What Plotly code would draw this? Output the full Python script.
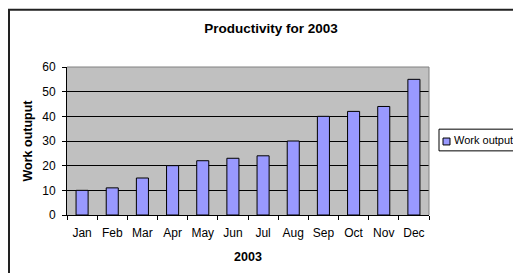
import plotly.graph_objects as go

months = ["Jan", "Feb", "Mar", "Apr", "May", "Jun", "Jul", "Aug", "Sep", "Oct", "Nov", "Dec"]
work_output = [10, 11, 15, 20, 22, 23, 24, 30, 40, 42, 44, 55]
y_ticks = [0, 10, 20, 30, 40, 50, 60]
series_name = "Work output"

# figure is drawn with an 8px page margin, so it is sized to fill the rest of the window
W, H = 513, 265
L, T = 59, 59
pw, ph = 362, 150
R, B = W - L - pw, H - T - ph

def px(x):
    return (x - L) / pw

def py(y):
    return (T + ph - y) / ph

FONT = "Liberation Sans, Arial, sans-serif"
BAR_COLOR = "#9999FF"

fig = go.Figure()
fig.add_trace(go.Bar(
    x=months, y=work_output, name=series_name, showlegend=False,
    marker=dict(color=BAR_COLOR, line=dict(color="black", width=1)),
))

fig.update_layout(
    width=W, height=H,
    margin=dict(l=L, r=R, t=T, b=B),
    paper_bgcolor="white",
    plot_bgcolor="#C0C0C0",
    bargap=0.6,
    font=dict(family=FONT, size=12, color="black"),
    title=dict(text="<b>Productivity for 2003</b>", x=263 / W, xanchor="center",
               y=1 - 20 / H, yanchor="middle", font=dict(size=13.5)),
    xaxis=dict(
        title=dict(text="<b>2003</b>", font=dict(size=12.5), standoff=12),
        showline=True, linecolor="black", linewidth=1,
        ticks="outside", ticklen=4, tickcolor="black",
        tickson="boundaries", showgrid=False, tickangle=0,
        tickfont=dict(size=12), ticklabelstandoff=7,
    ),
    yaxis=dict(
        title=dict(text="<b>Work outuput</b>", font=dict(size=12.5), standoff=6),
        range=[0, 60], tickvals=y_ticks,
        showline=True, linecolor="black", linewidth=1,
        ticks="outside", ticklen=4, tickcolor="black",
        showgrid=True, gridcolor="black", gridwidth=1,
        zeroline=False, tickfont=dict(size=12), ticklabelstandoff=4,
    ),
    shapes=[
        # chart area border
        dict(type="rect", xref="paper", yref="paper",
             x0=px(1), x1=px(560), y0=py(320), y1=py(1),
             line=dict(color="#222222", width=2), layer="below"),
        # plot area top / right edges
        dict(type="line", xref="paper", yref="paper", x0=0, x1=1, y0=1, y1=1,
             line=dict(color="#808080", width=1), layer="above"),
        dict(type="line", xref="paper", yref="paper", x0=1, x1=1, y0=0, y1=1,
             line=dict(color="#808080", width=1), layer="above"),
        # legend box
        dict(type="rect", xref="paper", yref="paper",
             x0=px(431), x1=px(560), y0=py(144), y1=py(122),
             line=dict(color="black", width=1), fillcolor="white", layer="above"),
        # legend swatch
        dict(type="rect", xref="paper", yref="paper",
             x0=px(435), x1=px(442), y0=py(138), y1=py(131),
             line=dict(color="black", width=1), fillcolor=BAR_COLOR, layer="above"),
    ],
    annotations=[
        dict(text=series_name, xref="paper", yref="paper", x=px(444), y=py(133),
             xanchor="left", yanchor="middle", showarrow=False,
             font=dict(size=11)),
    ],
)

fig.write_html("out.html")
